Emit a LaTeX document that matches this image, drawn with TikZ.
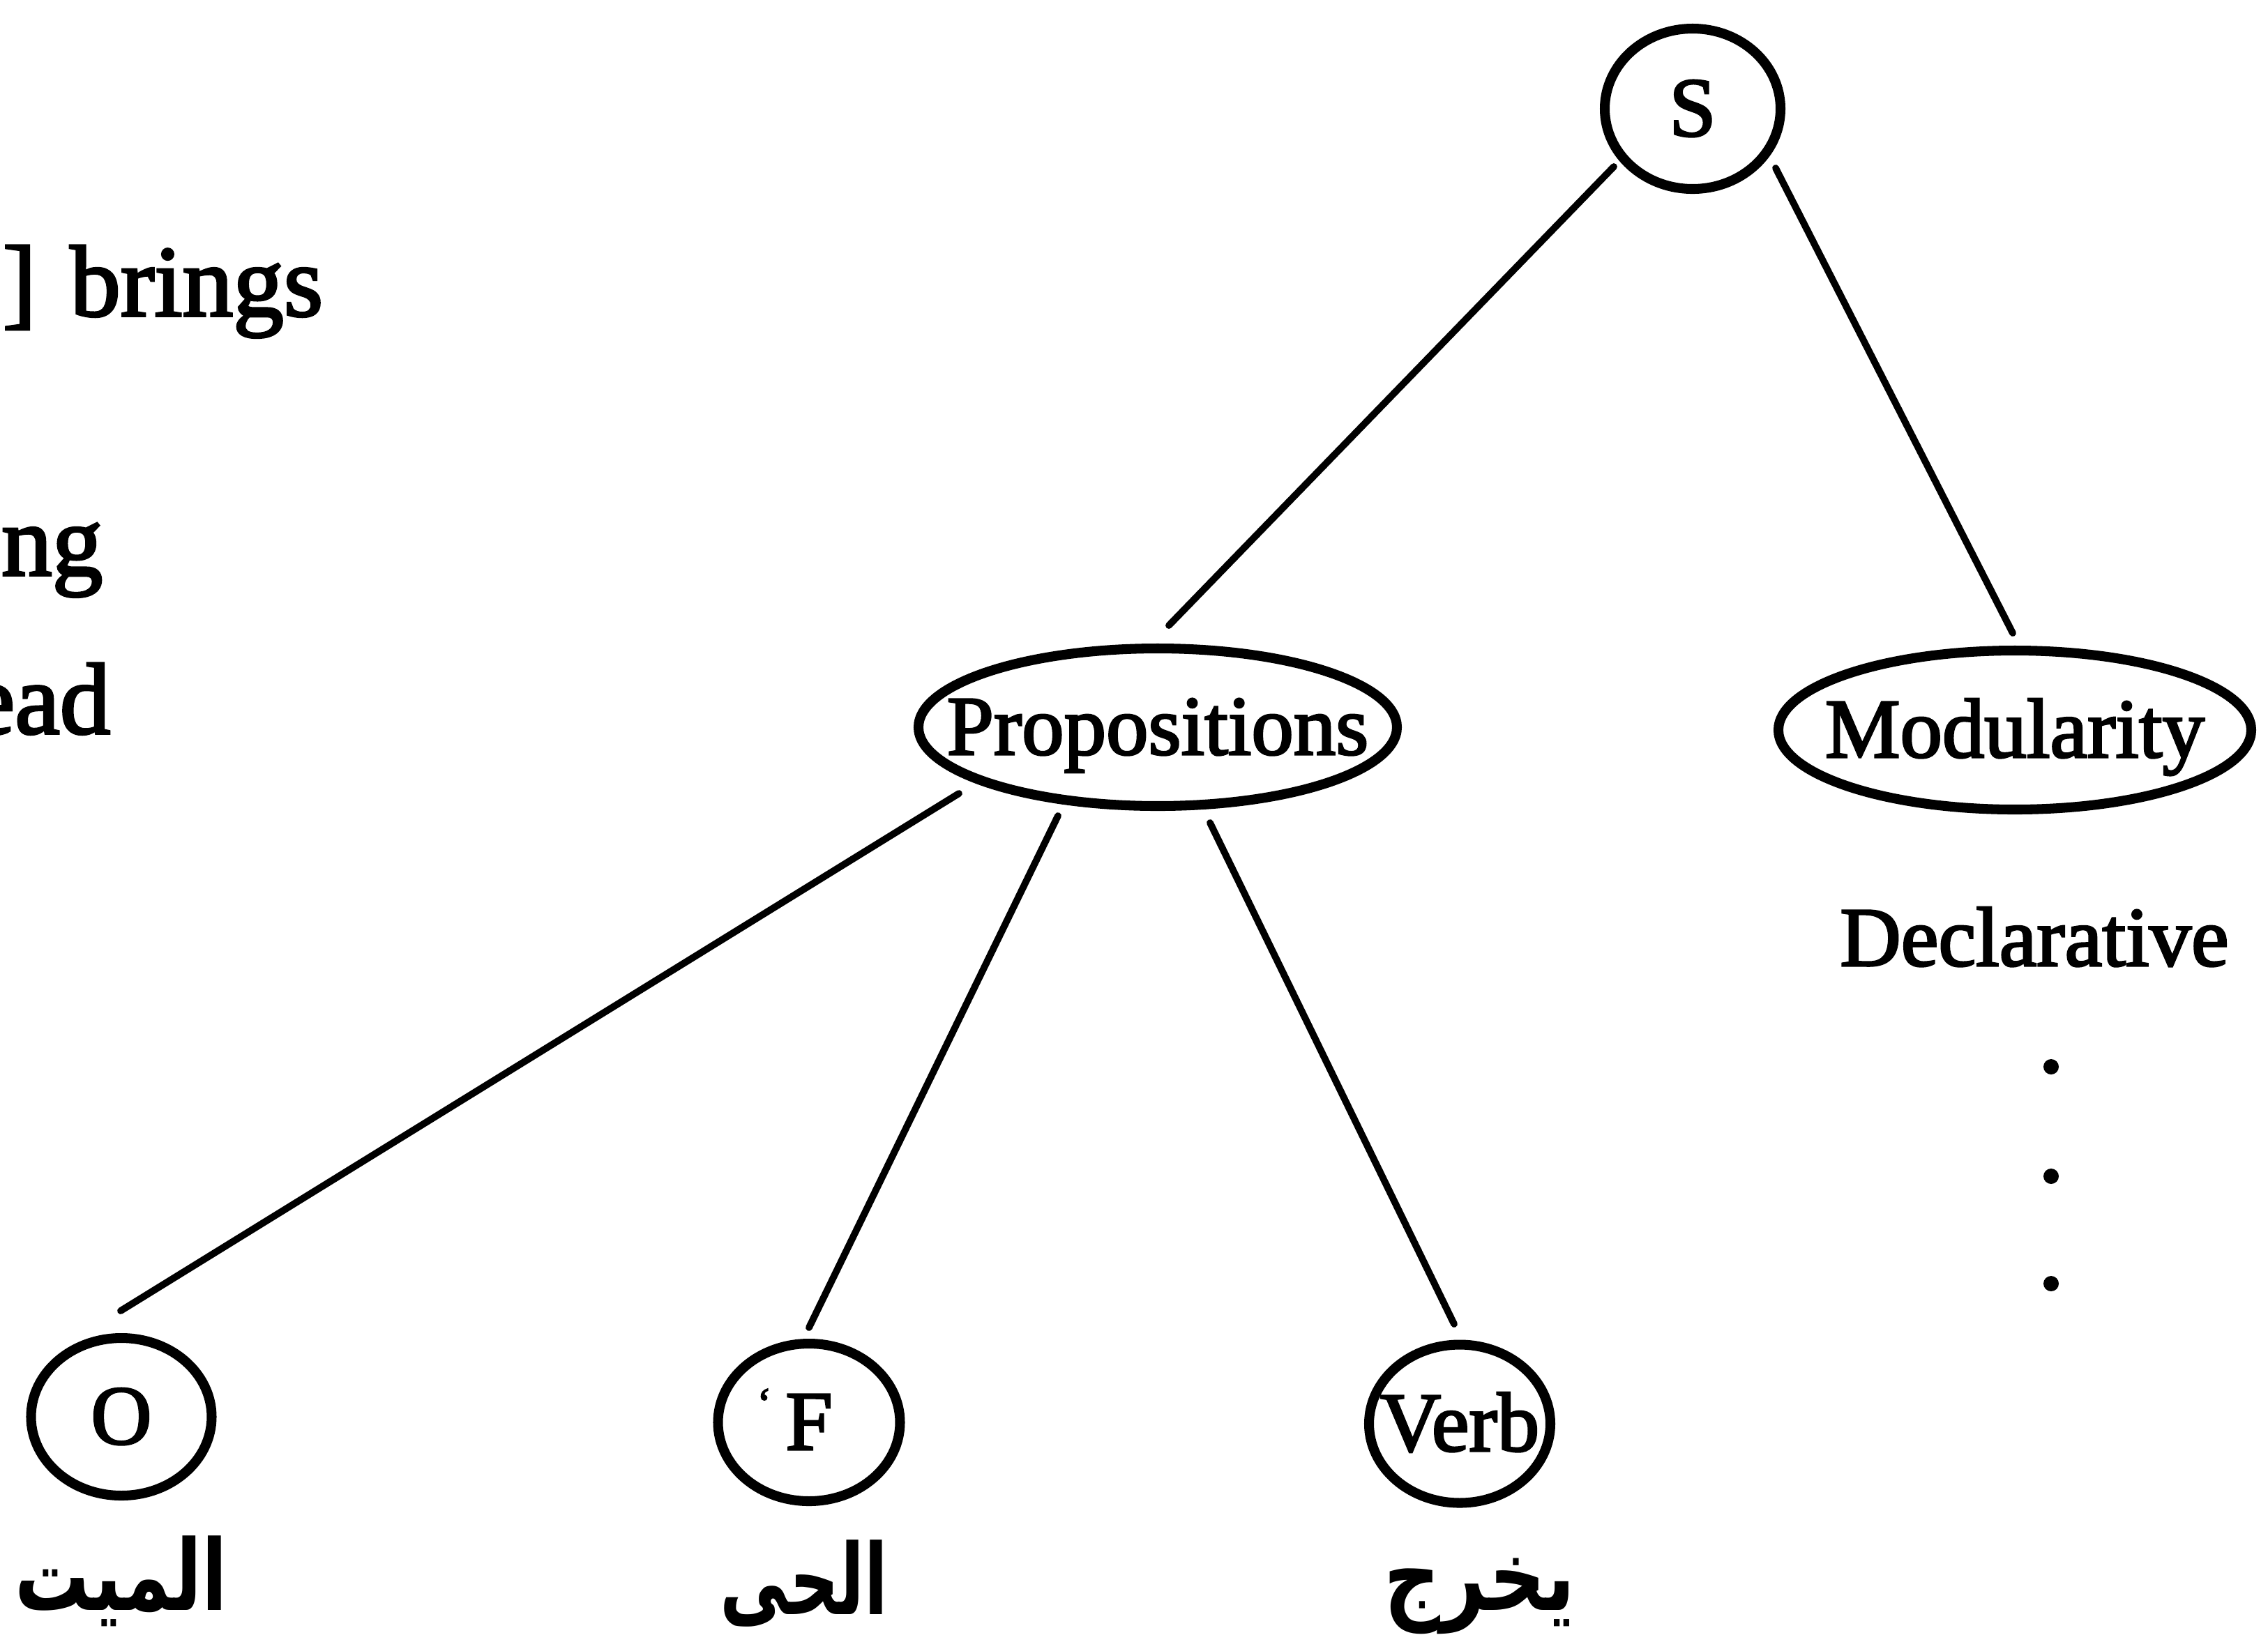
\documentclass[tikz,border=0pt]{standalone}
\usepackage{fontspec}
\setmainfont{Liberation Serif}[FakeBold=2.5]
\newfontfamily\arabicfont[Script=Arabic]{DejaVu Sans}
\TeXXeTstate=1
\usetikzlibrary{shapes.geometric}
% text box of zero width, so that the ellipse keeps its given size
\newcommand\zwbox[1]{\makebox[0pt]{#1}}
% horizontally narrowed Arabic word
\newcommand\arword[2]{\scalebox{#1}[1]{\beginR #2\endR}}

\begin{document}
\begin{tikzpicture}[
  oval/.style={draw, ellipse, line width=4pt, inner sep=0pt,
    text height=0.78cm, text depth=0cm, font=\fontsize{34.4}{40}\selectfont},
  branch/.style={line width=2.8pt, line cap=round},
  gloss/.style={font=\arabicfont\bfseries\fontsize{40}{48}\selectfont,
    anchor=base, inner sep=0pt},
  body/.style={font=\fontsize{41.3}{50}\selectfont, anchor=base east, inner sep=0pt},
  plain/.style={font=\fontsize{34.4}{40}\selectfont, anchor=base, inner sep=0pt},
]
\useasboundingbox (0,0) rectangle (32.52,-23.54);
\clip (0,0) rectangle (32.52,-23.54);

% running text cut off at the left margin
\node[body] (t1) at (4.64,-4.53) {.] brings};
\node[body] (t2) at (1.48,-8.25) {ng};
\node[body] (t3) at (1.59,-10.52) {ead};

% tree nodes
\node[oval, minimum width=2.52cm, minimum height=2.30cm] (S) at (24.27,-1.56) {\zwbox{S}};
\node[oval, minimum width=6.86cm, minimum height=2.26cm] (P) at (16.60,-10.43) {\zwbox{Propositions}};
\node[oval, minimum width=6.78cm, minimum height=2.28cm] (M) at (28.89,-10.47) {\zwbox{Modularity}};
\node[oval, minimum width=2.59cm, minimum height=2.26cm] (O) at (1.74,-20.32) {\zwbox{O}};
\node[oval, minimum width=2.61cm, minimum height=2.26cm] (F) at (11.60,-20.40)
  {\zwbox{\llap{\raisebox{0.45cm}{\fontsize{18}{18}\selectfont `}\hspace{0.2cm}}F}};
\node[oval, minimum width=2.60cm, minimum height=2.27cm] (V) at (20.93,-20.42) {\zwbox{Verb}};

% branches
\draw[branch] ([shift={(-1.13,-0.83)}]S.center) -- ([shift={(0.16,1.46)}]P.center);
\draw[branch] ([shift={(1.19,-0.85)}]S.center) -- ([shift={(-0.03,1.39)}]M.center);
\draw[branch] ([shift={(-2.85,-0.95)}]P.center) -- ([shift={(-0.01,1.52)}]O.center);
\draw[branch] ([shift={(-1.43,-1.27)}]P.center) -- ([shift={(0,1.36)}]F.center);
\draw[branch] ([shift={(0.75,-1.37)}]P.center) -- ([shift={(-0.08,1.43)}]V.center);

% under Modularity
\node[plain] (decl) at (29.17,-13.85) {Declarative};
\fill (29.41,-15.30) circle (0.11);
\fill (29.41,-16.87) circle (0.11);
\fill (29.41,-18.41) circle (0.11);

% Arabic words under the leaves
\node[gloss] (aO) at (1.74,-23.09) {\arword{0.76}{الميت}};
\node[gloss] (aF) at (11.53,-23.15) {\arword{0.70}{الحى}};
\node[gloss] (aV) at (21.22,-23.09) {\arword{0.80}{يخرج}};
\end{tikzpicture}
\end{document}
